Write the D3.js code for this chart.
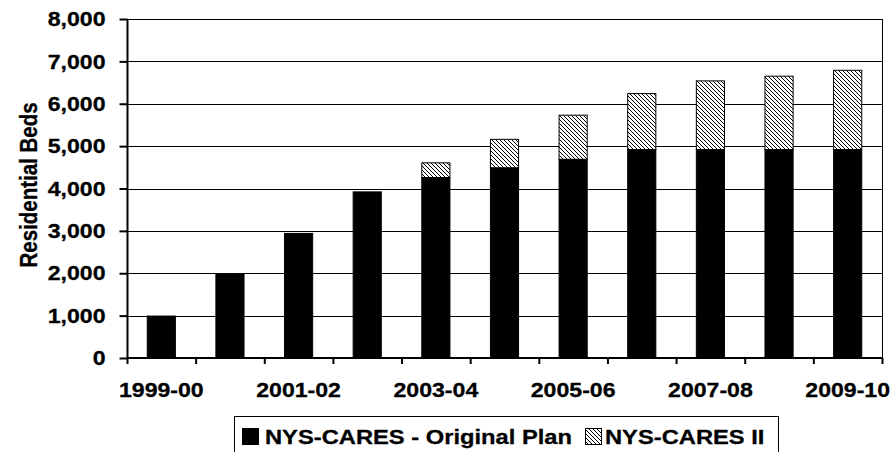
<!DOCTYPE html>
<html><head><meta charset="utf-8">
<script src="https://cdn.jsdelivr.net/npm/d3@7"></script>
<style>
body{margin:0;background:#fff}
svg{display:block}
text{font-family:"Liberation Sans",Arial,Helvetica,sans-serif;font-weight:bold;fill:#000;stroke:#000;stroke-width:0.3px}
</style>
</head><body>
<svg id="c" width="890" height="452"></svg>
<script>
const categories = ["1999-00","2000-01","2001-02","2002-03","2003-04","2004-05","2005-06","2006-07","2007-08","2008-09","2009-10"];
const originalPlan = [990,1970,2940,3920,4260,4490,4690,4920,4920,4920,4920];
const caresII = [0,0,0,0,345,670,1040,1320,1620,1730,1870];
const yTicks = [0,1000,2000,3000,4000,5000,6000,7000,8000];
const seriesNames = ["NYS-CARES - Original Plan","NYS-CARES II"];
const yTitle = "Residential Beds";

(function(){
const SX = 1.1;           // horizontal stretch of the original rendering
const SXL = 1.13;         // legend text stretch
const pL = 127, pR = 882, pT = 19, pB = 358;

const svg = d3.select("#c");

// hatch pattern
const defs = svg.append("defs");
const pat = defs.append("pattern").attr("id","hatch")
  .attr("patternUnits","userSpaceOnUse").attr("width",4).attr("height",4);
pat.append("rect").attr("width",4).attr("height",4).attr("fill","#fff");
pat.append("path").attr("d","M-1,-1 L5,5 M-1,3 L1,5 M3,-1 L5,1")
  .attr("stroke","#000").attr("stroke-width",1);

const x = d3.scaleBand().domain(categories).range([pL,pR]).paddingInner(0.59).paddingOuter(0.295);
const xb = d3.scaleLinear().domain([0,categories.length]).range([pL,pR]);
const y = d3.scaleLinear().domain([0,8000]).range([pB,pT]);

// gridlines
svg.append("g").selectAll("line").data(yTicks.filter(d=>d>0)).join("line")
  .attr("x1",pL).attr("x2",pR)
  .attr("y1",d=>Math.round(y(d))+0.5).attr("y2",d=>Math.round(y(d))+0.5)
  .attr("stroke","#000").attr("stroke-width",1);
// right border
svg.append("line").attr("x1",pR+0.5).attr("x2",pR+0.5).attr("y1",pT).attr("y2",pB)
  .attr("stroke","#000").attr("stroke-width",1);

// stacked bars
const rows = categories.map((c,i)=>({cat:c, orig:originalPlan[i], ii:caresII[i]}));
const stack = d3.stack().keys(["orig","ii"])(rows);
const fills = ["#000","url(#hatch)"];
svg.append("g").selectAll("g").data(stack).join("g")
  .attr("fill",(d,i)=>fills[i])
  .selectAll("rect").data(d=>d.filter(v=>v[1]-v[0]>0)).join("rect")
  .attr("x",d=>x(d.data.cat)).attr("width",x.bandwidth())
  .attr("y",d=>y(d[1])).attr("height",d=>y(d[0])-y(d[1]))
  .attr("stroke","#000").attr("stroke-width",1);

// y axis
const yAxis = svg.append("g").attr("transform",`translate(${pL+0.5},0)`)
  .call(d3.axisLeft(y).tickValues(yTicks).tickSize(8).tickPadding(14).tickFormat(d3.format(",")));
yAxis.selectAll("path,line").attr("stroke","#000").attr("stroke-width",2);
yAxis.select("path").attr("d",`M0,${pT}V${pB+1}`);
yAxis.selectAll("text").attr("font-size",21).attr("font-family",null)
  .attr("x",-22/SX).attr("transform",`scale(${SX},1)`);

// x axis: boundary ticks
const xAxisT = svg.append("g").attr("transform",`translate(0,${pB})`)
  .call(d3.axisBottom(xb).tickValues(d3.range(categories.length+1)).tickSize(6).tickFormat(""));
xAxisT.selectAll("path,line").attr("stroke","#000").attr("stroke-width",2);
xAxisT.select("path").attr("d",`M${pL},0H${pR+1}`);
// x labels
const xAxisL = svg.append("g").attr("transform",`translate(0,${pB})`)
  .call(d3.axisBottom(x).tickSize(0).tickPadding(24).tickFormat((d,i)=>i%2===0?d:""));
xAxisL.select("path").remove();
xAxisL.selectAll("text").attr("font-size",21).attr("font-family",null)
  .attr("transform",`scale(${SX},1)`);

// y title
svg.append("text").attr("transform",`translate(37,185) rotate(-90) scale(1,1.2)`)
  .attr("text-anchor","middle").attr("font-size",20.5).text(yTitle);

// legend
const lg = svg.append("g");
lg.append("rect").attr("x",234.5).attr("y",416.5).attr("width",544).attr("height",50)
  .attr("fill","#fff").attr("stroke","#000").attr("stroke-width",1);
const items = [
  {name:seriesNames[0], fill:fills[0], sx:242, tx:265},
  {name:seriesNames[1], fill:fills[1], sx:585, tx:605}
];
items.forEach(it=>{
  lg.append("rect").attr("x",it.sx+0.5).attr("y",428.5).attr("width",16).attr("height",16)
    .attr("fill",it.fill).attr("stroke","#000").attr("stroke-width",1);
  lg.append("text").attr("transform",`translate(${it.tx},443.5) scale(${SXL},1)`)
    .attr("font-size",21).text(it.name);
});
})();
</script>
</body></html>
